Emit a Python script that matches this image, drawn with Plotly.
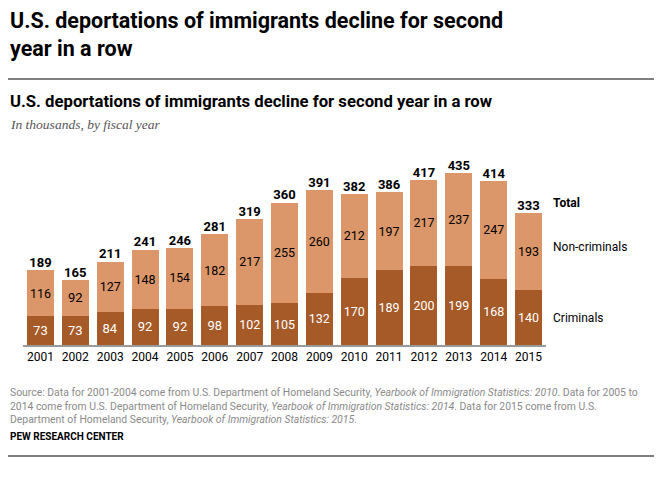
import plotly.graph_objects as go

years = [str(y) for y in range(2001, 2016)]
criminals = [73, 73, 84, 92, 92, 98, 102, 105, 132, 170, 189, 200, 199, 168, 140]
non_criminals = [116, 92, 127, 148, 154, 182, 217, 255, 260, 212, 197, 217, 237, 247, 193]
totals = [189, 165, 211, 241, 246, 281, 319, 360, 391, 382, 386, 417, 435, 414, 333]

DARK = "#A55A28"
LIGHT = "#DB9669"
FONT = "Roboto"

fig = go.Figure()
fig.add_trace(go.Bar(
    x=years, y=criminals, name="Criminals", marker=dict(color=DARK, line=dict(width=0)),
    text=[str(v) for v in criminals], textposition="inside", insidetextanchor="middle",
    textfont=dict(color="white", size=13, family=FONT), textangle=0,
))
fig.add_trace(go.Bar(
    x=years, y=non_criminals, name="Non-criminals", marker=dict(color=LIGHT, line=dict(width=0)),
    text=[str(v) for v in non_criminals], textposition="inside", insidetextanchor="middle",
    textfont=dict(color="black", size=13, family=FONT), textangle=0,
))
fig.add_trace(go.Scatter(
    x=years, y=totals, mode="text", text=[str(v) for v in totals],
    textposition="top center", textfont=dict(color="black", size=13, family=FONT),
    texttemplate="<b>%{text}</b>", hoverinfo="skip", cliponaxis=False,
))

fig.update_layout(
    width=654, height=471,
    margin=dict(l=15, r=116, t=152, b=134, autoexpand=False),
    barmode="stack", bargap=0.225, showlegend=False,
    plot_bgcolor="white", paper_bgcolor="white",
    font=dict(family=FONT, color="black"),
    xaxis=dict(range=[-0.5, 14.5], showgrid=False, showline=True, linecolor="#9a9a9a", linewidth=1.5,
               ticks="", tickfont=dict(size=12, color="black", family=FONT),
               fixedrange=True, automargin=False),
    yaxis=dict(range=[0, 468], visible=False, fixedrange=True, automargin=False),
)

ann = []
# titles
ann.append(dict(text="<b>U.S. deportations of immigrants decline for second<br>year in a row</b>",
                xref="paper", yref="paper", x=0, y=1, xshift=-15, yshift=154, xanchor="left", yanchor="top",
                align="left", showarrow=False,
                font=dict(size=21.5, family=FONT, color="black")))
ann.append(dict(text="<b>U.S. deportations of immigrants decline for second year in a row</b>",
                xref="paper", yref="paper", x=0, y=1, xshift=-15, yshift=70, xanchor="left", yanchor="top",
                align="left", showarrow=False,
                font=dict(size=16.7, family=FONT, color="black")))
ann.append(dict(text="<i>In thousands, by fiscal year</i>",
                xref="paper", yref="paper", x=0, y=1, xshift=-15, yshift=45, xanchor="left", yanchor="top",
                align="left", showarrow=False,
                font=dict(size=13.5, family="Liberation Serif", color="#555555")))
# series labels
ann.append(dict(text="<b>Total</b>", xref="paper", yref="y", x=1, y=359, xanchor="left", xshift=5,
                showarrow=False, font=dict(size=12, family=FONT, color="black")))
ann.append(dict(text="Non-criminals", xref="paper", yref="y", x=1, y=248, xanchor="left", xshift=5,
                showarrow=False, font=dict(size=12, family=FONT, color="black")))
ann.append(dict(text="Criminals", xref="paper", yref="y", x=1, y=68, xanchor="left", xshift=5,
                showarrow=False, font=dict(size=12, family=FONT, color="black")))
# source
ann.append(dict(text="Source: Data for 2001-2004 come from U.S. Department of Homeland Security, <i>Yearbook of Immigration Statistics: 2010</i>. Data for 2005 to<br>"
                     "2014 come from U.S. Department of Homeland Security, <i>Yearbook of Immigration Statistics: 2014</i>. Data for 2015 come from U.S.<br>"
                     "Department of Homeland Security, <i>Yearbook of Immigration Statistics: 2015</i>.",
                xref="paper", yref="paper", x=0, y=0, xshift=-15, yshift=-39, xanchor="left", yanchor="top",
                align="left", showarrow=False,
                font=dict(size=10.4, family="Roboto", color="#8a8a8a")))
ann.append(dict(text="<b>PEW RESEARCH CENTER</b>",
                xref="paper", yref="paper", x=0, y=0, xshift=-15, yshift=-84, xanchor="left", yanchor="top",
                align="left", showarrow=False,
                font=dict(size=10, family="Roboto", color="black")))
fig.update_layout(annotations=ann)

fig.add_shape(type="line", xref="paper", yref="paper", x0=-15/523, x1=632/523,
              y0=(345 - 79) / 185, y1=(345 - 79) / 185, line=dict(color="black", width=1.2))
fig.add_shape(type="line", xref="paper", yref="paper", x0=-15/523, x1=632/523,
              y0=(345 - 456) / 185, y1=(345 - 456) / 185, line=dict(color="black", width=1.2))

fig.write_html("out.html")
